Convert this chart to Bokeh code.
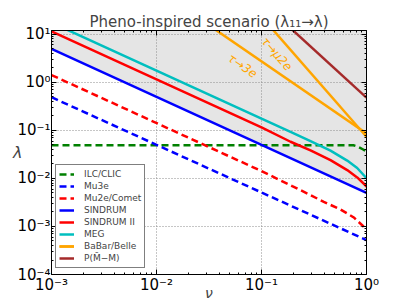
from bokeh.plotting import figure
from bokeh.models import (LogAxis, FixedTicker, CustomJSTickFormatter, Label,
                          Legend, LegendItem)
from bokeh.embed import file_html
from bokeh.resources import INLINE

# ---------------- data ----------------
title_text = "Pheno-inspired scenario (λ₁₁→λ)"
x_label = "ν"
y_label = "λ"
x_exponents = [-3, -2, -1, 0]
y_exponents = [-4, -3, -2, -1, 0, 1]
x_lim = (1e-3, 1.0)
y_lim = (1e-4, 12.0)

ilc_nu = [1e-3, 0.75, 0.80, 0.87, 0.93, 1.0]
ilc_lam = [0.049, 0.049, 0.047, 0.043, 0.040, 0.036]

mu3e_nu = [1e-3, 1.0]
mu3e_lam = [0.49, 0.00052]

mu2e_nu = [1e-3, 0.1, 0.196, 0.282, 0.392, 0.565, 0.757, 0.91, 1.0]
mu2e_lam = [1.42, 0.0142, 0.0069, 0.0047, 0.00325, 0.00226, 0.00154, 0.00106, 0.000865]

sindrum_nu = [1e-3, 1.0]
sindrum_lam = [4.95, 0.0050]

sindrum2_nu = [1e-3, 0.1, 0.189, 0.293, 0.454, 0.655, 0.815, 0.977, 1.0]
sindrum2_lam = [11.5, 0.115, 0.058, 0.0385, 0.0240, 0.0149, 0.0105, 0.0072, 0.0067]

meg_nu = [1e-3, 0.1, 0.189, 0.293, 0.454, 0.655, 0.815, 0.977, 1.0]
meg_lam = [17.5, 0.175, 0.093, 0.060, 0.038, 0.0235, 0.0165, 0.0107, 0.0102]

tau3e_nu = [0.02, 1.0]
tau3e_lam = [30.6, 0.0866]

taumu2e_nu = [0.1, 1.0]
taumu2e_lam = [23.3, 0.0736]

pmm_nu = [0.1, 1.0]
pmm_lam = [48.0, 0.48]

legend_labels = ["ILC/CLIC", "Mu3e", "Mu2e/Comet", "SINDRUM", "SINDRUM II",
                 "MEG", "BaBar/Belle", "P(M̄−M)"]

# ---------------- figure ----------------
FONT = "DejaVu Sans"
p = figure(width=407, height=305, x_axis_type="log", y_axis_type="log",
           x_range=x_lim, y_range=y_lim, output_backend="svg",
           toolbar_location=None, title=title_text,
           min_border_left=51, min_border_right=41,
           min_border_top=30, min_border_bottom=31,
           background_fill_color="white", border_fill_color="white")

p.title.text_font = FONT
p.title.text_font_size = "15px"
p.title.text_font_style = "normal"
p.title.align = "center"
p.title.standoff = 0
p.title.offset = 0

xt = FixedTicker(ticks=[10.0 ** e for e in x_exponents],
                 minor_ticks=[m * 10.0 ** e for e in x_exponents for m in range(2, 10)])
yt = FixedTicker(ticks=[10.0 ** e for e in y_exponents],
                 minor_ticks=[m * 10.0 ** e for e in y_exponents for m in range(2, 10)])

fmt = CustomJSTickFormatter(code="""
const e = Math.round(Math.log10(tick));
const s = {"-":"\u207b","0":"\u2070","1":"\u00b9","2":"\u00b2","3":"\u00b3",
           "4":"\u2074","5":"\u2075","6":"\u2076","7":"\u2077","8":"\u2078","9":"\u2079"};
return "10" + String(e).split("").map(c => s[c]).join("");
""")
blank = CustomJSTickFormatter(code="return '';")

def style_axis(ax, ticker, formatter, show):
    ax.ticker = ticker
    ax.formatter = formatter
    ax.major_tick_in = 5
    ax.major_tick_out = 0
    ax.minor_tick_in = 2
    ax.minor_tick_out = 0
    ax.axis_line_color = "black"
    ax.major_tick_line_color = "black"
    ax.minor_tick_line_color = "black"
    ax.major_label_text_font = FONT
    ax.major_label_text_color = "black"
    if show:
        ax.major_label_text_font_size = "15px"
        ax.major_label_standoff = 1
    else:
        ax.major_label_text_font_size = "0px"
        ax.major_label_standoff = 0

xa = p.below[0]
ya = p.left[0]
style_axis(xa, xt, fmt, True)
style_axis(ya, yt, fmt, True)
top_ax = LogAxis()
right_ax = LogAxis()
style_axis(top_ax, xt, blank, False)
style_axis(right_ax, yt, blank, False)
p.add_layout(top_ax, "above")
p.add_layout(right_ax, "right")

xa.axis_label = x_label
xa.axis_label_text_font = FONT
xa.axis_label_text_font_style = "italic"
xa.axis_label_text_font_size = "14px"
xa.axis_label_standoff = -12

ya.axis_label = y_label
ya.axis_label_orientation = "horizontal"
ya.axis_label_text_font = FONT
ya.axis_label_text_font_style = "italic"
ya.axis_label_text_font_size = "16px"
ya.axis_label_standoff = -8

p.xgrid.ticker = xt
p.ygrid.ticker = yt
for g in (p.xgrid[0], p.ygrid[0]):
    g.grid_line_color = "#8c8c8c"
    g.grid_line_dash = "1 2"
    g.grid_line_width = 1

p.outline_line_color = "black"
p.outline_line_width = 1

# excluded region above the strongest bound (SINDRUM)
p.varea(x=sindrum_nu, y1=sindrum_lam, y2=[1e3] * len(sindrum_nu),
        fill_color="#e5e5e5", level="image")

LW = 2.5
DASH = "7 4"
r_ilc = p.line(ilc_nu, ilc_lam, line_color="green", line_width=LW, line_dash=DASH)
r_mu3e = p.line(mu3e_nu, mu3e_lam, line_color="blue", line_width=LW, line_dash=DASH)
r_mu2e = p.line(mu2e_nu, mu2e_lam, line_color="red", line_width=LW, line_dash=DASH)
r_sin = p.line(sindrum_nu, sindrum_lam, line_color="blue", line_width=LW)
r_sin2 = p.line(sindrum2_nu, sindrum2_lam, line_color="red", line_width=LW)
r_meg = p.line(meg_nu, meg_lam, line_color="#00bfbf", line_width=LW)
r_t3e = p.line(tau3e_nu, tau3e_lam, line_color="orange", line_width=LW)
r_tm2e = p.line(taumu2e_nu, taumu2e_lam, line_color="orange", line_width=LW)
r_pmm = p.line(pmm_nu, pmm_lam, line_color="#a52a2a", line_width=LW)

p.add_layout(Label(x=0.066, y=2.2, text="τ→3e", angle=-0.60,
                   text_color="orange", text_font=FONT, text_font_style="italic",
                   text_font_size="12px", text_align="center", text_baseline="middle"))
p.add_layout(Label(x=0.14, y=3.9, text="τ→μ2e", angle=-0.86,
                   text_color="orange", text_font=FONT, text_font_style="italic",
                   text_font_size="12px", text_align="center", text_baseline="middle"))

renders = [[r_ilc], [r_mu3e], [r_mu2e], [r_sin], [r_sin2], [r_meg],
           [r_t3e, r_tm2e], [r_pmm]]
items = [LegendItem(label=lab, renderers=rs) for lab, rs in zip(legend_labels, renders)]
leg = Legend(items=items, location=(4, 6), label_text_font=FONT,
             label_text_font_size="9px", glyph_width=15, glyph_height=12,
             label_height=12, label_standoff=10, spacing=0, padding=3,
             margin=0, border_line_color="black", border_line_width=1,
             background_fill_color="white", background_fill_alpha=1)
p.add_layout(leg, "center")

open("out.html", "w").write(file_html(p, INLINE))
